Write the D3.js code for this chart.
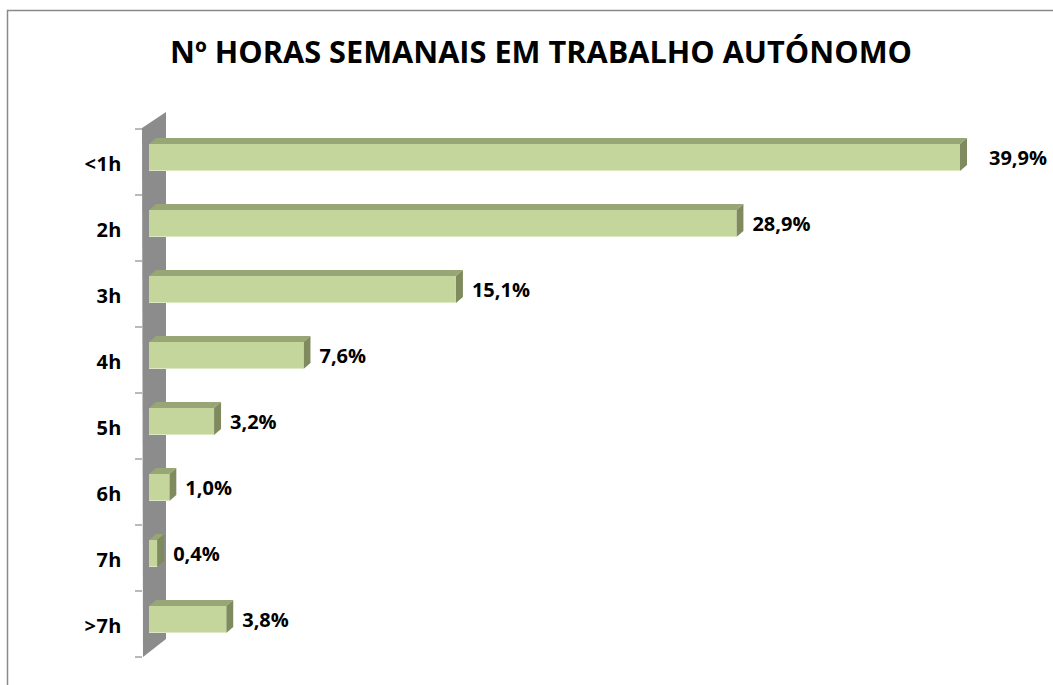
<!DOCTYPE html>
<html><head><meta charset="utf-8">
<script src="https://cdn.jsdelivr.net/npm/d3@7"></script>
<style>html,body{margin:0;padding:0;background:#fff;}svg{display:block;}</style>
</head><body>
<svg id="c" width="1053" height="685"></svg>
<script>
const categories = ["<1h","2h","3h","4h","5h","6h","7h",">7h"];
const values = [39.9, 28.9, 15.1, 7.6, 3.2, 1.0, 0.4, 3.8];
const labels = ["39,9%","28,9%","15,1%","7,6%","3,2%","1,0%","0,4%","3,8%"];
const title = "Nº HORAS SEMANAIS EM TRABALHO AUTÓNOMO";

const svg = d3.select("#c");
const font = "'Open Sans', 'DejaVu Sans', sans-serif";

// frame
svg.append("path").attr("d","M7.5,685 L7.5,10.5 L1053,10.5")
  .attr("fill","none").attr("stroke","#8a8a8a").attr("stroke-width",1.5);

// title
svg.append("text").attr("x",541).attr("y",63).attr("text-anchor","middle")
  .attr("font-family",font).attr("font-weight","bold").attr("font-size",30)
  .attr("textLength",742).attr("lengthAdjust","spacingAndGlyphs")
  .attr("fill","#000").text(title);

const x = d3.scaleLinear().domain([0, 39.9]).range([149, 960]);
const y = d3.scaleBand().domain(categories).range([129, 657]).padding(0);

const dx = 7, dy = -6;
// wall
const wallL = 142, wallR = 166;
svg.append("polygon")
  .attr("points",[[wallL,128],[wallR,112],[wallR,639],[wallL+1,657]].map(p=>p.join(",")).join(" "))
  .attr("fill","#8c8c8c");

// ticks at band boundaries
const bounds = categories.map(c=>y(c)).concat([y(categories[categories.length-1])+y.bandwidth()]);
svg.append("g").selectAll("line").data(bounds).join("line")
  .attr("x1",135).attr("x2",wallL).attr("y1",d=>d).attr("y2",d=>d)
  .attr("stroke","#8a8a8a").attr("stroke-width",1.2);

// category labels via axis
const ax = svg.append("g").attr("transform",`translate(${wallL},0)`)
  .call(d3.axisLeft(y).tickSize(0).tickPadding(20));
ax.select(".domain").remove();
ax.selectAll("text").attr("font-family",font).attr("font-weight","bold")
  .attr("font-size",20).attr("fill","#000").attr("dy",null).attr("y",9)
  .attr("letter-spacing",0.5);

// bars
const bh = 27, off = 15;
const bars = svg.append("g").selectAll("g").data(categories).join("g");
bars.each(function(c,i){
  const g = d3.select(this);
  const x0 = x(0), x1 = x(values[i]);
  const t = y(c)+off, b = t+bh;
  // top face
  g.append("polygon").attr("points",[[x0,t],[x0+dx,t+dy],[x1+dx,t+dy],[x1,t]].map(p=>p.join(",")).join(" "))
    .attr("fill","#98a675");
  // side face
  g.append("polygon").attr("points",[[x1,t],[x1+dx,t+dy],[x1+dx,b+dy],[x1,b]].map(p=>p.join(",")).join(" "))
    .attr("fill","#7f8b5f");
  // front face
  g.append("rect").attr("x",x0).attr("y",t).attr("width",x1-x0).attr("height",bh)
    .attr("fill","#c4d69b");
  g.append("line").attr("x1",x0).attr("x2",x1).attr("y1",b-0.5).attr("y2",b-0.5)
    .attr("stroke","#dde8c4").attr("stroke-width",1);
  g.append("text").attr("x",x1+(i===0?29:16)).attr("y",t+bh/2+7)
    .attr("font-family",font).attr("font-weight","bold").attr("font-size",20)
    .attr("fill","#000").text(labels[i]);
});
</script>
</body></html>
